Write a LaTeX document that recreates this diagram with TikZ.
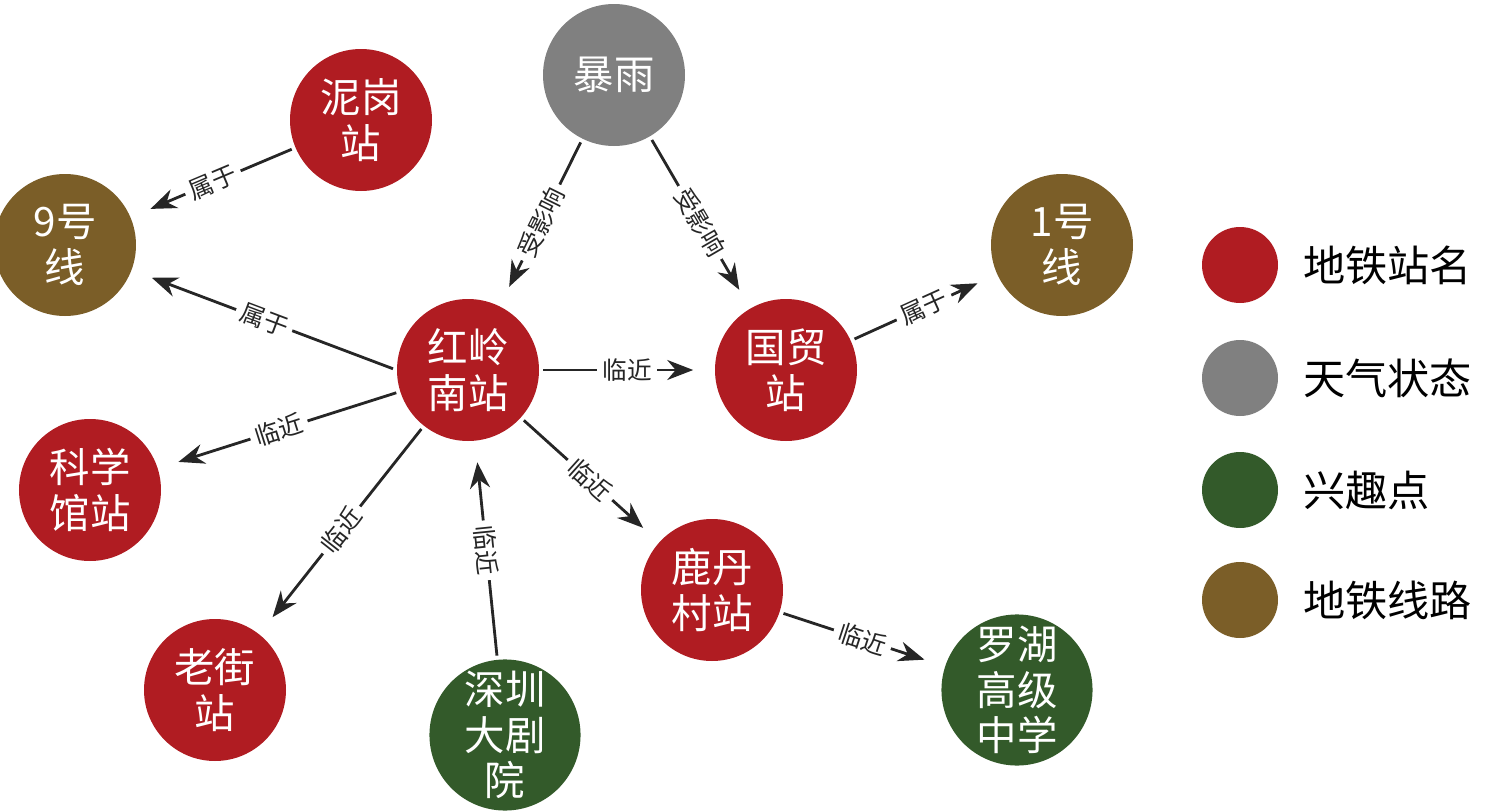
\documentclass[tikz,border=0pt]{standalone}
\usepackage{fontspec}
\setmainfont{Noto Sans CJK SC}
\usetikzlibrary{arrows.meta,positioning}
\definecolor{stationred}{HTML}{B01C22}
\definecolor{weathergray}{HTML}{808080}
\definecolor{poigreen}{HTML}{335A2A}
\definecolor{linebrown}{HTML}{7B5E28}

\begin{document}
\begin{tikzpicture}[
    ent/.style={circle, minimum size=1.42cm, inner sep=0pt, text=white, align=center,
        font=\fontsize{11.5}{13}\selectfont},
    rel/.style={-{Stealth[length=2.6mm,width=2mm]}, thick, black!85, shorten >=6pt, shorten <=1pt},
    lab/.style={fill=white, inner sep=1.5pt, sloped, font=\fontsize{7}{8}\selectfont},
    key/.style={circle, minimum size=0.76cm, inner sep=0pt},
    keytext/.style={font=\fontsize{12}{14}\selectfont},
]
\useasboundingbox (0,0) rectangle (15,-8.11);

% Entities
\node[ent, fill=weathergray] (rain) at (6.14,-0.75) {暴雨};
\node[ent, fill=stationred] (nigang) at (3.61,-1.20) {泥岗\\站};
\node[ent, fill=linebrown] (line9) at (0.65,-2.45) {9号\\线};
\node[ent, fill=linebrown] (line1) at (10.62,-2.45) {1号\\线};
\node[ent, fill=stationred] (hongling) at (4.68,-3.70) {红岭\\南站};
\node[ent, fill=stationred] (guomao) at (7.86,-3.70) {国贸\\站};
\node[ent, fill=stationred] (kexue) at (0.90,-4.90) {科学\\馆站};
\node[ent, fill=stationred] (ludan) at (7.12,-5.90) {鹿丹\\村站};
\node[ent, fill=stationred] (laojie) at (2.15,-6.90) {老街\\站};
\node[ent, fill=poigreen] (theatre) at (5.05,-7.35) {深圳\\大剧\\院};
\node[ent, fill=poigreen] (luohu) at (10.17,-6.90) {罗湖\\高级\\中学};

% Relations
\draw[rel] (nigang) -- node[lab] {属于} (line9);
\draw[rel] (rain) -- node[lab] {受影响} (hongling);
\draw[rel] (rain) -- node[lab] {受影响} (guomao);
\draw[rel] (guomao) -- node[lab] {属于} (line1);
\draw[rel] (hongling.west) -- node[lab] {属于} (line9);
\draw[rel] (hongling) -- node[lab] {临近} (guomao);
\draw[rel] (hongling) -- node[lab] {临近} (kexue);
\draw[rel] (hongling) -- node[lab] {临近} (laojie);
\draw[rel] (theatre) -- node[lab] {临近} (hongling);
\draw[rel] (hongling) -- node[lab] {临近} (ludan);
\draw[rel] (ludan) -- node[lab] {临近} (luohu);

% Legend
\node[key, fill=stationred] (k1) at (12.40,-2.65) {};
\node[keytext, right=0.12cm of k1] {地铁站名};
\node[key, fill=weathergray] (k2) at (12.40,-3.78) {};
\node[keytext, right=0.12cm of k2] {天气状态};
\node[key, fill=poigreen] (k3) at (12.40,-4.90) {};
\node[keytext, right=0.12cm of k3] {兴趣点};
\node[key, fill=linebrown] (k4) at (12.40,-6.00) {};
\node[keytext, right=0.12cm of k4] {地铁线路};
\end{tikzpicture}
\end{document}
